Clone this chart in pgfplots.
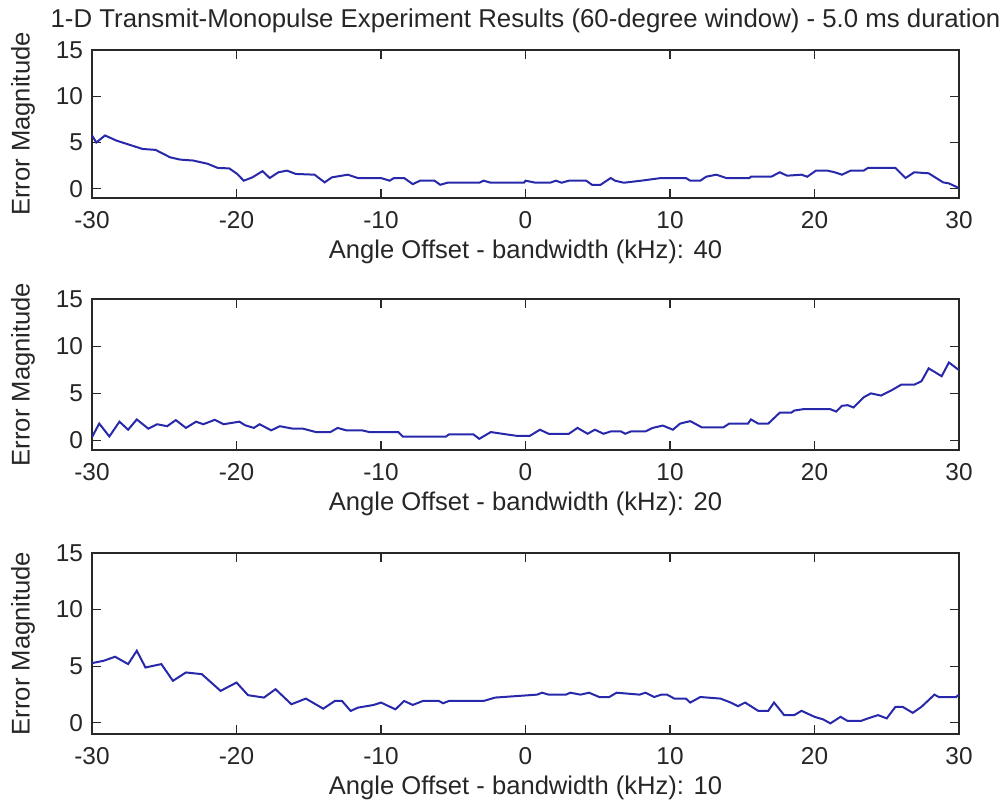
\documentclass[border=0pt]{standalone}
\usepackage{fontspec}
\setmainfont{Liberation Sans}
\usepackage{pgfplots}
\pgfplotsset{compat=1.18}
\definecolor{mline}{RGB}{40,40,170}
\definecolor{maxis}{RGB}{40,40,40}

\pgfplotsset{
  mlab/.style={
    scale only axis, width=433.5pt,
    xmin=-30, xmax=30, ymin=-1, ymax=15,
    xtick={-30,-20,...,30}, ytick={0,5,10,15},
    tick align=inside, major tick length=4.5pt,
    tick style={maxis, line width=0.6pt},
    axis line style={maxis, line width=0.8pt},
    ticklabel style={font=\fontsize{12.2}{14}\selectfont, text=black!85},
    xticklabel style={yshift=-3pt},
    yticklabel style={xshift=-1pt},
    /pgf/number format/assume math mode=true,
    ylabel={Error Magnitude},
    label style={font=\fontsize{12.8}{15}\selectfont, text=black!85},
    x label style={at={(axis description cs:0.5,0)}, anchor=center, yshift=-27pt},
    y label style={at={(axis description cs:0,0.5)}, anchor=center, yshift=34.5pt},
    cycle list={{mline}},
    no markers,
    every axis plot/.append style={line width=1pt},
  }
}

\begin{document}
\begin{tikzpicture}
\useasboundingbox (0,0) rectangle (502pt,404pt);

\begin{axis}[mlab, at={(46pt,305pt)}, anchor=south west, height=74pt,
  xlabel={Angle Offset - bandwidth (kHz): 40},
  title={1-D Transmit-Monopulse Experiment Results (60-degree window) - 5.0 ms duration},
  title style={at={(axis description cs:0.5,1)}, anchor=center, yshift=8.5pt,
    font=\fontsize{12.9}{15}\selectfont, text=black!85}]
\addplot coordinates {
(-30,5.76) (-29.7,5.0) (-29.1,5.76) (-28.3,5.2) (-27.4,4.75) (-26.5,4.3) (-25.6,4.2)
(-24.6,3.4) (-23.9,3.15) (-23,3.05) (-22,2.7) (-21.3,2.25) (-20.5,2.2) (-19.95,1.6)
(-19.5,0.87) (-18.9,1.23) (-18.2,1.9) (-17.7,1.16) (-17.1,1.78) (-16.5,1.96) (-15.9,1.6)
(-14.6,1.52) (-13.9,0.69) (-13.4,1.23) (-12.3,1.52) (-11.6,1.16) (-10,1.16) (-9.4,0.87)
(-9.1,1.16) (-8.4,1.16) (-7.8,0.5) (-7.3,0.87) (-6.3,0.87) (-5.9,0.43) (-5.4,0.65)
(-3.2,0.65) (-2.9,0.87) (-2.4,0.65) (-0.1,0.65) (0,0.87) (0.7,0.65) (1.7,0.65) (2.1,0.87)
(2.5,0.65) (3,0.87) (4.2,0.87) (4.6,0.43) (5.2,0.43) (5.9,1.16) (6.2,0.87) (6.8,0.65)
(8,0.87) (9.4,1.16) (11.1,1.16) (11.4,0.87) (12.1,0.87) (12.5,1.3) (13.2,1.52) (13.9,1.16)
(15.5,1.16) (15.6,1.3) (17,1.3) (17.6,1.78) (18.1,1.41) (19.1,1.52) (19.5,1.3) (20.1,1.96)
(20.9,1.96) (21.4,1.78) (21.9,1.52) (22.5,1.96) (23.4,1.96) (23.7,2.25) (25.6,2.25)
(26.3,1.16) (26.9,1.78) (27.9,1.67) (28.9,0.69) (29.3,0.58) (30,0.07)
};
\end{axis}

\begin{axis}[mlab, at={(46pt,179pt)}, anchor=south west, height=75.5pt,
  xlabel={Angle Offset - bandwidth (kHz): 20}]
\addplot coordinates {
(-30,0.36) (-29.5,1.8) (-28.8,0.43) (-28.1,2.0) (-27.5,1.15) (-26.9,2.24) (-26.1,1.26)
(-25.5,1.73) (-24.8,1.52) (-24.2,2.17) (-23.5,1.34) (-22.8,2.0) (-22.3,1.73) (-21.5,2.2)
(-20.9,1.73) (-19.8,2.0) (-19.4,1.62) (-18.8,1.34) (-18.4,1.73) (-17.6,1.08) (-17,1.52)
(-16.1,1.26) (-15.4,1.26) (-14.5,0.9) (-13.5,0.9) (-13,1.34) (-12.4,1.08) (-11.3,1.08)
(-10.8,0.9) (-8.8,0.9) (-8.5,0.43) (-5.5,0.43) (-5.3,0.65) (-3.6,0.65) (-3.2,0.18)
(-2.4,0.9) (-1.3,0.65) (-0.6,0.5) (0.3,0.5) (1.0,1.15) (1.6,0.72) (3,0.72) (3.6,1.34)
(4.3,0.72) (4.8,1.15) (5.4,0.72) (5.9,0.97) (6.6,0.97) (6.9,0.72) (7.3,0.97) (8.3,0.97)
(8.8,1.34) (9.5,1.59) (10.2,1.15) (10.7,1.8) (11.4,2.06) (12.2,1.4) (13.7,1.4) (14.1,1.8)
(15.4,1.8) (15.6,2.24) (16.1,1.8) (16.8,1.8) (17.6,2.96) (18.4,2.96) (18.6,3.18) (19.2,3.32)
(21.1,3.32) (21.5,3.07) (21.9,3.68) (22.3,3.75) (22.7,3.5) (23.4,4.58) (23.9,5.0) (24.6,4.77)
(25.3,5.3) (26,5.92) (26.9,5.92) (27.4,6.28) (27.9,7.65) (28.8,6.82) (29.3,8.27) (30,7.47)
};
\end{axis}

\begin{axis}[mlab, at={(46pt,37pt)}, anchor=south west, height=90.5pt,
  xlabel={Angle Offset - bandwidth (kHz): 10}]
\addplot coordinates {
(-30,5.27) (-29.2,5.47) (-28.4,5.83) (-27.5,5.18) (-26.9,6.36) (-26.3,4.88) (-25.2,5.18)
(-24.4,3.7) (-23.5,4.44) (-22.4,4.29) (-21.1,2.81) (-20.0,3.55) (-19.2,2.43) (-18.1,2.22)
(-17.3,2.96) (-16.2,1.63) (-15.2,2.13) (-14.0,1.24) (-13.2,1.92) (-12.7,1.92) (-12.1,1.04)
(-11.6,1.33) (-10.5,1.57) (-10,1.78) (-9.0,1.18) (-8.4,1.92) (-7.8,1.57) (-7.1,1.92)
(-6.0,1.92) (-5.7,1.72) (-5.3,1.92) (-2.9,1.92) (-2.1,2.22) (0.8,2.48) (1.15,2.65)
(1.6,2.48) (2.8,2.48) (3.1,2.65) (3.8,2.48) (4.4,2.65) (5.1,2.27) (5.8,2.27) (6.3,2.65)
(7.9,2.48) (8.3,2.65) (8.9,2.27) (9.4,2.48) (9.8,2.48) (10.3,2.13) (11.1,2.13) (11.4,1.78)
(12.1,2.27) (13.5,2.13) (14.2,1.78) (14.7,1.46) (15.2,1.78) (16.1,1.05) (16.8,1.05)
(17.2,1.78) (17.9,0.67) (18.6,0.67) (19.1,1.05) (20,0.52) (20.6,0.29) (21.1,-0.06)
(21.8,0.52) (22.3,0.15) (23.2,0.15) (23.7,0.38) (24.4,0.67) (25,0.38) (25.6,1.4) (26.1,1.4)
(26.8,0.87) (27.4,1.4) (28.3,2.48) (28.6,2.27) (29.8,2.27) (30,2.48)
};
\end{axis}
\end{tikzpicture}
\end{document}
